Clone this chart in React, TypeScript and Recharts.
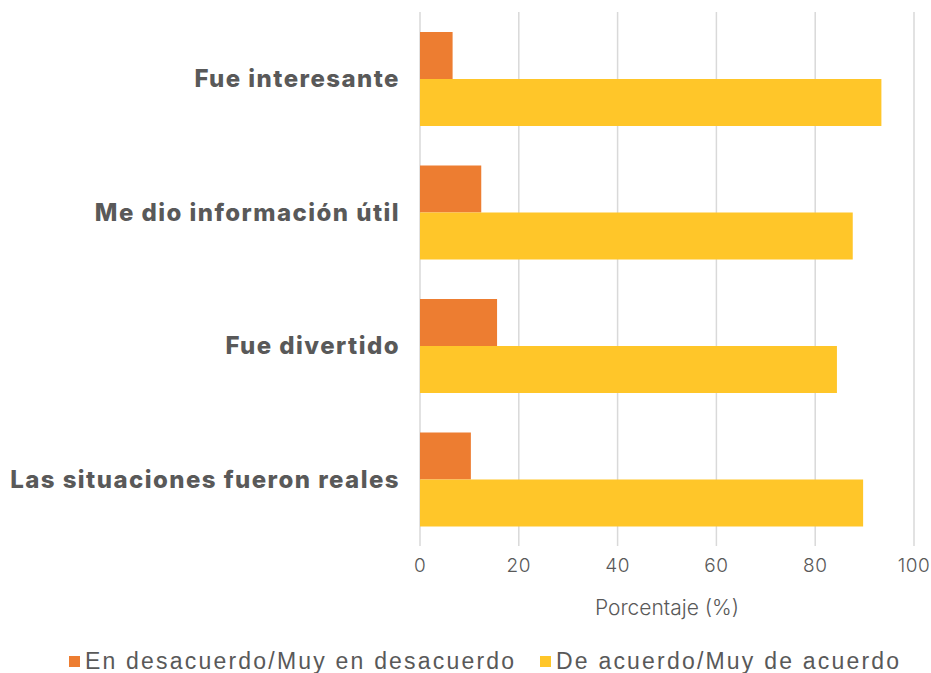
import { BarChart, Bar, XAxis, YAxis, CartesianGrid, Legend } from 'recharts'

const categories = ['Fue interesante', 'Me dio información útil', 'Fue divertido', 'Las situaciones fueron reales']
const desacuerdo = [6.6, 12.4, 15.6, 10.3]
const acuerdo = [93.4, 87.6, 84.4, 89.7]
const xTicks = [0, 20, 40, 60, 80, 100]

const seriesNames = ['En desacuerdo/Muy en desacuerdo', 'De acuerdo/Muy de acuerdo']
const ORANGE = '#ED7D31'
const YELLOW = '#FFC629'

const data = categories.map((name, i) => ({
  name,
  desacuerdo: desacuerdo[i],
  acuerdo: acuerdo[i],
}))

function LegendBox() {
  const items = [
    { label: seriesNames[0], color: ORANGE, left: 69 },
    { label: seriesNames[1], color: YELLOW, left: 540 },
  ]
  return (
    <div style={{ position: 'relative', width: 931, height: 30 }}>
      {items.map(it => (
        <div
          key={it.label}
          style={{
            position: 'absolute',
            left: it.left,
            top: 7,
            height: 22,
            display: 'flex',
            alignItems: 'center',
            whiteSpace: 'nowrap',
          }}
        >
          <span style={{ width: 11, height: 11, background: it.color, marginRight: 5, display: 'inline-block' }} />
          <span
            style={{
              fontFamily: '"Liberation Sans", Arial, sans-serif',
              fontSize: 23,
              letterSpacing: 2.2,
              color: '#595959',
            }}
          >
            {it.label}
          </span>
        </div>
      ))}
    </div>
  )
}

export default function App() {
  return (
    <div style={{ position: 'absolute', left: 0, top: 0, width: 931, height: 673, background: '#fff' }}>
      <BarChart
        width={931}
        height={673}
        data={data}
        layout="vertical"
        margin={{ top: 12, right: 17, bottom: 0, left: 0 }}
        barCategoryGap="15%"
        barGap={0}
      >
        <CartesianGrid horizontal={false} stroke="#D9D9D9" strokeWidth={1.5} />
        <XAxis
          type="number"
          domain={[0, 100]}
          ticks={xTicks}
          axisLine={false}
          tickLine={false}
          tickSize={0}
          tickMargin={13}
          height={97}
          tick={{ fill: '#595959', fontSize: 19, fontFamily: 'Inter, sans-serif', fontWeight: 300, letterSpacing: 0.5 }}
          label={{
            value: 'Porcentaje (%)',
            position: 'insideBottom',
            offset: 28,
            fill: '#595959',
            fontSize: 21,
            fontFamily: 'Inter, sans-serif',
            fontWeight: 300,
          }}
        />
        <YAxis
          type="category"
          dataKey="name"
          width={420}
          axisLine={false}
          tickLine={false}
          tickSize={0}
          tickMargin={20}
          tick={{ fill: '#595959', fontSize: 24, fontFamily: 'Inter, sans-serif', fontWeight: 800, letterSpacing: 1.45 }}
        />
        <Legend
          verticalAlign="bottom"
          content={() => <LegendBox />}
          wrapperStyle={{ left: 0, bottom: 0, width: 931, height: 30 }}
        />
        <Bar dataKey="desacuerdo" name={seriesNames[0]} fill={ORANGE} isAnimationActive={false} />
        <Bar dataKey="acuerdo" name={seriesNames[1]} fill={YELLOW} isAnimationActive={false} />
      </BarChart>
    </div>
  )
}
